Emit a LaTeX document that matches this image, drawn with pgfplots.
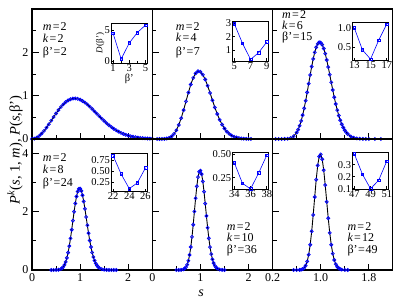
\documentclass[border=0pt]{standalone}
\usepackage{fontspec}
\setmainfont{Liberation Serif}
\usepackage{pgfplots}
\usepackage{pgfplotstable}
\pgfplotsset{compat=1.18}

\pgfplotstableread{
s p
0 0
0.05 0.0081
0.10 0.0320
0.15 0.0709
0.20 0.1233
0.25 0.1871
0.30 0.2602
0.35 0.3398
0.40 0.4232
0.45 0.5073
0.50 0.5896
0.55 0.6672
0.60 0.7380
0.65 0.8002
0.70 0.8514
0.75 0.8913
0.80 0.9186
0.85 0.9339
0.90 0.9364
0.95 0.9278
1.00 0.9076
1.05 0.8778
1.10 0.8406
1.15 0.7961
1.20 0.7465
1.25 0.6932
1.30 0.6372
1.35 0.5806
1.40 0.5240
1.45 0.4688
1.50 0.4158
1.55 0.3654
1.60 0.3188
1.65 0.2752
1.70 0.2365
1.75 0.2007
1.80 0.1698
1.85 0.1417
1.90 0.1181
1.95 0.0970
2.00 0.0796
2.05 0.0644
2.10 0.0521
2.15 0.0415
2.20 0.0331
2.25 0.0260
2.30 0.0204
2.35 0.0158
2.40 0.0122
2.45 0.0094
2.50 0.0071
}\dataA

\pgfplotstableread{
s p
0.10 0.0000
0.15 0.0001
0.20 0.0007
0.25 0.0032
0.30 0.0104
0.35 0.0270
0.40 0.0597
0.45 0.1160
0.50 0.2030
0.55 0.3247
0.60 0.4810
0.65 0.6660
0.70 0.8682
0.75 1.0715
0.80 1.2581
0.85 1.4106
0.90 1.5149
0.95 1.5624
1.00 1.5508
1.05 1.4847
1.10 1.3728
1.15 1.2279
1.20 1.0637
1.25 0.8934
1.30 0.7281
1.35 0.5763
1.40 0.4435
1.45 0.3319
1.50 0.2417
1.55 0.1714
1.60 0.1185
1.65 0.0798
1.70 0.0524
1.75 0.0336
1.80 0.0210
1.85 0.0128
1.90 0.0076
1.95 0.0044
2.00 0.0025
2.05 0.0014
}\dataB

\pgfplotstableread{
s p
0.25 0.0000
0.30 0.0000
0.35 0.0003
0.40 0.0016
0.45 0.0068
0.50 0.0228
0.55 0.0633
0.60 0.1495
0.625 0.2176
0.65 0.3060
0.675 0.4170
0.70 0.5510
0.725 0.7078
0.75 0.8841
0.775 1.0761
0.80 1.2764
0.825 1.4780
0.85 1.6712
0.875 1.8481
0.90 1.9990
0.925 2.1168
0.95 2.1954
0.975 2.2320
1.00 2.2249
1.025 2.1761
1.05 2.0891
1.075 1.9695
1.10 1.8239
1.125 1.6599
1.15 1.4849
1.175 1.3065
1.20 1.1305
1.225 0.9627
1.25 0.8067
1.275 0.6655
1.30 0.5406
1.325 0.4324
1.35 0.3408
1.375 0.2647
1.40 0.2025
1.425 0.1527
1.45 0.1135
1.50 0.0601
1.55 0.0302
1.60 0.0143
1.65 0.0064
1.70 0.0027
1.75 0.0011
1.80 0.0004
1.90 0.0000
2.00 0.0000
}\dataC

\pgfplotstableread{
s p
0.40 0.0000
0.45 0.0002
0.50 0.0016
0.55 0.0084
0.60 0.0337
0.625 0.0617
0.65 0.1070
0.675 0.1764
0.70 0.2771
0.725 0.4157
0.75 0.5967
0.775 0.8218
0.80 1.0869
0.825 1.3827
0.85 1.6942
0.875 2.0028
0.90 2.2865
0.925 2.5236
0.95 2.6951
0.975 2.7872
1.00 2.7948
1.025 2.7178
1.05 2.5669
1.075 2.3550
1.10 2.1003
1.125 1.8217
1.15 1.5377
1.175 1.2643
1.20 1.0123
1.225 0.7901
1.25 0.6010
1.275 0.4461
1.30 0.3231
1.325 0.2283
1.35 0.1576
1.375 0.1062
1.40 0.0700
1.45 0.0284
1.50 0.0105
1.55 0.0036
1.60 0.0011
1.65 0.0003
1.70 0.0001
1.75 0.0000
}\dataD

\pgfplotstableread{
s p
0.50 0.0000
0.55 0.0005
0.60 0.0042
0.65 0.0237
0.675 0.0505
0.70 0.0997
0.725 0.1842
0.75 0.3184
0.775 0.5169
0.80 0.7902
0.825 1.1396
0.85 1.5542
0.875 2.0092
0.90 2.4640
0.925 2.8734
0.95 3.1896
0.975 3.3758
1.00 3.4109
1.025 3.2931
1.05 3.0415
1.075 2.6912
1.10 2.2821
1.125 1.8567
1.15 1.4504
1.175 1.0890
1.20 0.7862
1.225 0.5461
1.25 0.3654
1.275 0.2355
1.30 0.1463
1.325 0.0877
1.35 0.0507
1.40 0.0153
1.45 0.0040
1.50 0.0010
}\dataE

\pgfplotstableread{
s p
0.55 0.0000
0.60 0.0004
0.65 0.0044
0.675 0.0122
0.70 0.0310
0.725 0.0716
0.75 0.1513
0.775 0.2937
0.80 0.5250
0.825 0.8676
0.85 1.3288
0.875 1.8909
0.90 2.5075
0.925 3.1032
0.95 3.5928
0.975 3.8991
1.00 3.9711
1.025 3.8038
1.05 3.4294
1.075 2.9173
1.10 2.3424
1.125 1.7777
1.15 1.2771
1.175 0.8693
1.20 0.5610
1.225 0.3437
1.25 0.1998
1.275 0.1106
1.30 0.0582
1.325 0.0292
1.35 0.0139
1.40 0.0028
1.45 0.0005
}\dataF

\pgfplotsset{
  mainax/.style={scale only axis, width=120.3pt,
    axis line style={line width=1.2pt},
    every tick/.style={line width=0.9pt, black},
    major tick length=6.5pt, minor tick length=4pt,
    xtick pos=left, ytick pos=left, tick align=inside,
    ticklabel style={font=\fontsize{12}{13}\selectfont},
    /pgf/number format/assume math mode=true},
  toprow/.style={height=130pt, ymin=0, ymax=3, ytick={0,1,2}, minor ytick={0.5,1.5,2.5}, xticklabels={}},
  botrow/.style={height=131pt, ymin=0, ymax=4.5, ytick={0,2,4}, minor ytick={1,3}},
  colA/.style={xmin=0, xmax=2.5, xtick={0,1,2}, minor xtick={0.5,1.5}},
  colC/.style={xmin=0.2, xmax=2.2, xtick={0.2,1.0,1.8}, minor xtick={0.6,1.4}, xticklabels={0.2,1.0,1.8}},
  noy/.style={yticklabels={}},
  mk/.style={only marks, mark=o, mark size=1.5pt, color=blue, mark options={line width=0.8pt}},
  ln/.style={black, line width=0.9pt, no marks},
  inset/.style={scale only axis, width=36.5pt,
    axis background/.style={fill=white},
    axis line style={line width=0.9pt},
    every tick/.style={line width=0.6pt, black},
    major tick length=3pt, minor tick length=2pt,
    xtick pos=left, ytick pos=left, tick align=inside,
    ticklabel style={font=\fontsize{10.5}{11}\selectfont, inner sep=1pt},
    /pgf/number format/assume math mode=true},
  ip/.style={blue, line width=0.6pt, mark=square, mark size=1.3pt, mark options={line width=0.5pt}},
}

\begin{document}
\begin{tikzpicture}[x=1pt,y=1pt]
\path[use as bounding box] (0,0) rectangle (405,301);

% top row
\begin{axis}[mainax, colA, toprow, at={(32pt,162pt)}, anchor=south west]
\addplot[mk] table {\dataA};
\addplot[ln] table {\dataA};
\end{axis}
\begin{axis}[mainax, colA, toprow, noy, at={(152.3pt,162pt)}, anchor=south west]
\addplot[mk] table {\dataB};
\addplot[ln] table {\dataB};
\end{axis}
\begin{axis}[mainax, colC, toprow, noy, at={(272.6pt,162pt)}, anchor=south west]
\addplot[mk] table {\dataC};
\addplot[ln] table {\dataC};
\end{axis}
% bottom row
\begin{axis}[mainax, colA, botrow, at={(32pt,31pt)}, anchor=south west]
\addplot[mk] table {\dataD};
\addplot[ln] table {\dataD};
\end{axis}
\begin{axis}[mainax, colA, botrow, noy, at={(152.3pt,31pt)}, anchor=south west]
\addplot[mk] table {\dataE};
\addplot[ln] table {\dataE};
\end{axis}
\begin{axis}[mainax, colC, botrow, noy, at={(272.6pt,31pt)}, anchor=south west]
\addplot[mk] table {\dataF};
\addplot[ln] table {\dataF};
\end{axis}

% insets
\begin{axis}[inset, height=40pt, at={(111pt,238pt)}, anchor=south west,
  xmin=0.75, xmax=5.25, ymin=-0.35, ymax=6.15, xtick={1,3,5}, minor xtick={2,4}, ytick={0,5},
  xlabel={β'}, ylabel={\textit{D}(β')},
  xlabel style={font=\fontsize{10.5}{11}\selectfont, inner sep=0pt, yshift=-2pt},
  ylabel style={font=\fontsize{9}{10}\selectfont, inner sep=0pt, yshift=-1pt}]
\addplot[ip] coordinates {(1,4.5) (2,0.3) (3,2.9) (4,4.6) (5,5.8)};
\end{axis}
\begin{axis}[inset, height=39.5pt, at={(232.3pt,240pt)}, anchor=south west,
  xmin=4.75, xmax=9.25, ymin=0.18, ymax=3.12, xtick={5,7,9}, ytick={1,2,3}]
\addplot[ip] coordinates {(5,2.95) (6,1.5) (7,0.3) (8,0.8) (9,1.6)};
\end{axis}
\begin{axis}[inset, height=38.5pt, at={(352.3pt,240.3pt)}, anchor=south west,
  xmin=12.75, xmax=17.25, ymin=0.15, ymax=1.15, xtick={13,15,17}, ytick={0.5,1.0}, yticklabels={0.5,1.0}]
\addplot[ip] coordinates {(13,1.0) (14,0.43) (15,0.19) (16,0.68) (17,1.1)};
\end{axis}
\begin{axis}[inset, height=38.4pt, at={(111pt,109.3pt)}, anchor=south west,
  xmin=21.75, xmax=26.25, ymin=0.03, ymax=0.9, xtick={22,24,26}, ytick={0.25,0.5,0.75}, yticklabels={0.25,0.50,0.75}]
\addplot[ip] coordinates {(22,0.85) (23,0.43) (24,0.1) (25,0.23) (26,0.57)};
\end{axis}
\begin{axis}[inset, height=36.6pt, at={(232.3pt,111.7pt)}, anchor=south west,
  xmin=33.75, xmax=38.25, ymin=0.126, ymax=0.517, xtick={34,36,38}, ytick={0.25,0.5}, yticklabels={0.25,0.50}]
\addplot[ip] coordinates {(34,0.41) (35,0.19) (36,0.13) (37,0.30) (38,0.49)};
\end{axis}
\begin{axis}[inset, height=36.6pt, at={(352.3pt,111.7pt)}, anchor=south west,
  xmin=46.75, xmax=51.25, ymin=0.095, ymax=0.40, xtick={47,49,51}, ytick={0.1,0.2,0.3}, yticklabels={0.1,0.2,0.3}]
\addplot[ip] coordinates {(47,0.39) (48,0.22) (49,0.1) (50,0.17) (51,0.33)};
\end{axis}

% annotations
\begin{scope}[every node/.style={anchor=base west, inner sep=0pt, font=\fontsize{12}{13}\selectfont}]
\node at (42.7,270.5) {\textit{m}\hspace{1.2pt}=\hspace{1.2pt}2};
\node at (42.7,258.2) {\textit{k}\hspace{1.2pt}=\hspace{1.2pt}2};
\node at (42.7,245.2) {β'\hspace{0.6pt}=\hspace{0.6pt}2};
\node at (175.7,270.8) {\textit{m}\hspace{1.2pt}=\hspace{1.2pt}2};
\node at (175.7,259.2) {\textit{k}\hspace{1.2pt}=\hspace{1.2pt}4};
\node at (175.7,245.8) {β'\hspace{0.6pt}=\hspace{0.6pt}7};
\node at (282,282.5) {\textit{m}\hspace{1.2pt}=\hspace{1.2pt}2};
\node at (282,271.8) {\textit{k}\hspace{1.2pt}=\hspace{1.2pt}6};
\node at (282,260.5) {β'\hspace{0.6pt}=\hspace{0.6pt}15};
\node at (42.7,139.2) {\textit{m}\hspace{1.2pt}=\hspace{1.2pt}2};
\node at (42.7,127.5) {\textit{k}\hspace{1.2pt}=\hspace{1.2pt}8};
\node at (42.7,114.5) {β'\hspace{0.6pt}=\hspace{0.6pt}24};
\node at (226.7,70.2) {\textit{m}\hspace{1.2pt}=\hspace{1.2pt}2};
\node at (226.7,59.7) {\textit{k}\hspace{1.2pt}=\hspace{1.2pt}10};
\node at (226.7,48.0) {β'\hspace{0.6pt}=\hspace{0.6pt}36};
\node at (347.3,70.2) {\textit{m}\hspace{1.2pt}=\hspace{1.2pt}2};
\node at (347.3,59.7) {\textit{k}\hspace{1.2pt}=\hspace{1.2pt}12};
\node at (347.3,48.0) {β'\hspace{0.6pt}=\hspace{0.6pt}49};
\end{scope}

% axis titles
\node[rotate=90, font=\fontsize{14.5}{15}\selectfont] at (15,151) {\textit{P}\textsuperscript{\textit{k}}(\textit{s}, 1, \textit{m}),\ \textit{P}(\textit{s},β')};
\node[font=\fontsize{14}{15}\selectfont] at (201,8) {\textit{s}};
\end{tikzpicture}
\end{document}
